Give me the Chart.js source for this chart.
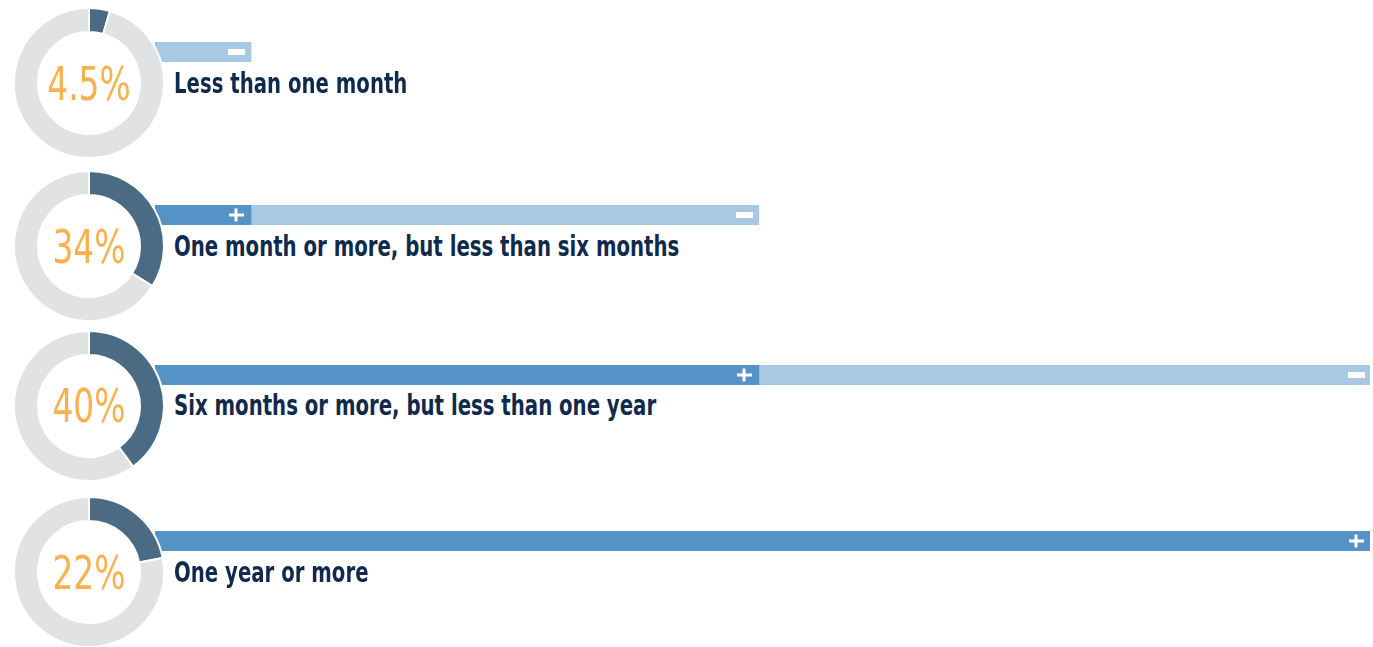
<!DOCTYPE html>
<html lang="en">
  <head>
    <meta charset="UTF-8" />
    <title>Time spent</title>
    <script src="https://cdn.jsdelivr.net/npm/chart.js"></script>
    <style>
      body {
        margin: 0;
        background: #fff;
        width: 1373px;
        height: 647px;
        overflow: hidden;
        position: relative;
        font-family: "DejaVu Sans", sans-serif;
      }
      .donut { position: absolute; left: 13px; z-index: 2; }
      .bar { position: absolute; left: 155px; z-index: 1; }
      /* no condensed face installed, so squeeze the text a little */
      .pct {
        position: absolute; left: 14px; width: 150px; text-align: center;
        font-size: 46px; line-height: 1; color: #fbb04b; z-index: 3;
        transform: scaleX(0.715); transform-origin: 75px 0;
      }
      .label {
        position: absolute; left: 174px; white-space: nowrap; z-index: 3;
        font-size: 29px; line-height: 1; font-weight: bold; color: #0f2a4c;
        transform: scaleX(0.68); transform-origin: 0 0;
      }
    </style>
  </head>
  <body>
    <script>
      // categories and values
      const categories = [
        "Less than one month",
        "One month or more, but less than six months",
        "Six months or more, but less than one year",
        "One year or more",
      ];
      const shares = [4.5, 34, 40, 22];
      const shareLabels = ["4.5%", "34%", "40%", "22%"];
      // bar segments, on a 0-100 scale
      const plusValues = [0, 7.9, 49.7, 100];
      const minusValues = [7.9, 41.8, 50.3, 0];

      const rowCenters = [83, 246, 405.5, 572];

      // white "+" / "-" marks at the end of each bar segment
      const markPlugin = {
        id: "marks",
        afterDatasetsDraw(chart) {
          const ctx = chart.ctx;
          ctx.save();
          ctx.fillStyle = "#fff";
          chart.data.datasets.forEach((ds, i) => {
            const meta = chart.getDatasetMeta(i);
            meta.data.forEach((el, j) => {
              if (!ds.data[j]) return;
              const cx = Math.round(el.x - 14.5);
              const cy = Math.round(el.y);
              if (ds.label === "plus") {
                ctx.fillRect(cx - 7, cy - 1.5, 15, 3);
                ctx.fillRect(cx - 1.5, cy - 6.5, 3, 13);
              } else {
                ctx.fillRect(cx - 8, cy - 3, 17, 6);
              }
            });
          });
          ctx.restore();
        },
      };

      categories.forEach((cat, i) => {
        const cy = rowCenters[i];

        const dc = document.createElement("canvas");
        dc.className = "donut";
        dc.width = 152;
        dc.height = 152;
        dc.style.top = cy - 76 + "px";
        document.body.appendChild(dc);

        const bc = document.createElement("canvas");
        bc.className = "bar";
        bc.width = 1215;
        bc.height = 20;
        bc.style.top = cy - 41 + "px";
        document.body.appendChild(bc);

        const pct = document.createElement("div");
        pct.className = "pct";
        pct.style.top = cy + 16.5 - 38.9 + "px";
        pct.textContent = shareLabels[i];
        document.body.appendChild(pct);

        const lab = document.createElement("div");
        lab.className = "label";
        lab.style.top = cy + 10 - 24.5 + "px";
        lab.textContent = cat;
        document.body.appendChild(lab);

        new Chart(dc, {
          type: "doughnut",
          data: {
            labels: [cat, "other"],
            datasets: [
              {
                data: [shares[i], 100 - shares[i]],
                backgroundColor: ["#4b6b85", "#e1e2e4"],
                borderColor: "#fff",
                borderWidth: 2,
              },
            ],
          },
          options: {
            responsive: false,
            animation: false,
            cutout: "68%",
            plugins: { legend: { display: false }, tooltip: { enabled: false } },
          },
        });

        new Chart(bc, {
          type: "bar",
          data: {
            labels: [cat],
            datasets: [
              { label: "plus", data: [plusValues[i]], backgroundColor: "#5592c6" },
              { label: "minus", data: [minusValues[i]], backgroundColor: "#a9c8e3" },
            ],
          },
          options: {
            indexAxis: "y",
            responsive: false,
            animation: false,
            barPercentage: 1,
            categoryPercentage: 1,
            layout: { padding: 0 },
            scales: {
              x: { stacked: true, min: 0, max: 100, display: false },
              y: { stacked: true, display: false },
            },
            plugins: { legend: { display: false }, tooltip: { enabled: false } },
          },
          plugins: [markPlugin],
        });
      });
    </script>
  </body>
</html>
